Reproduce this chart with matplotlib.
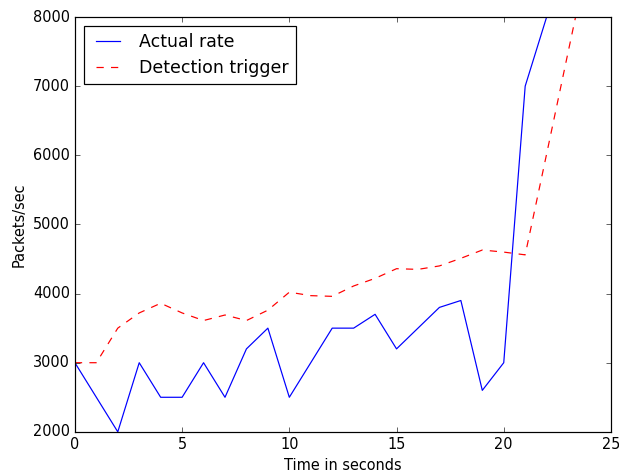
import matplotlib

matplotlib.use("Agg")
import matplotlib.pyplot as plt

plt.style.use("classic")

seconds = list(range(0, 23))
actual_rate = [3000, 2500, 2000, 3000, 2500, 2500, 3000, 2500, 3200, 3500,
               2500, 3000, 3500, 3500, 3700, 3200, 3500, 3800, 3900, 2600,
               3000, 7000, 8000]

trigger_seconds = list(range(0, 25))
detection_trigger = [3000, 3000, 3500, 3720, 3860, 3720, 3610, 3690, 3610, 3760,
                     4020, 3970, 3960, 4110, 4220, 4360, 4350, 4400, 4510, 4630,
                     4600, 4560, 6020, 7490, 8950]

# original looks like a classic-style figure scaled down a bit
dpi = 87
fig = plt.figure(figsize=(619 / dpi, 473 / dpi), dpi=dpi)
ax = fig.add_axes([0.121, 0.087, 0.866, 0.877])
ax.plot(seconds, actual_rate, "b-", label="Actual rate")
ax.plot(trigger_seconds, detection_trigger, "r--", label="Detection trigger")
ax.set_xlim(0, 25)
ax.set_ylim(2000, 8000)
ax.set_xlabel("Time in seconds")
ax.set_ylabel("Packets/sec")
ax.legend(loc="upper left")
fig.savefig("out.png", dpi=dpi)
